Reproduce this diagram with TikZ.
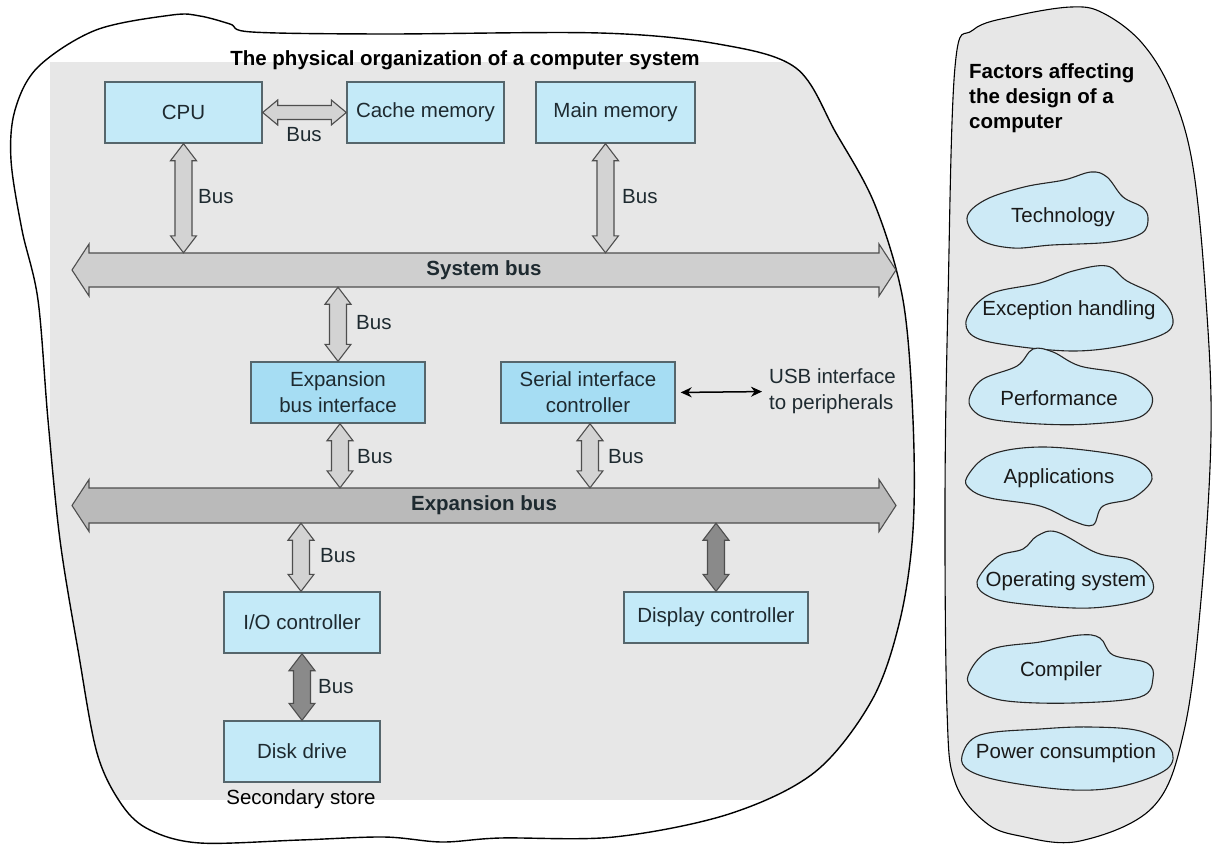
\documentclass[tikz,border=0pt]{standalone}
\usepackage{fontspec}
\setmainfont{Liberation Sans}
\usetikzlibrary{calc,arrows.meta}

\definecolor{boxblue}{HTML}{C4EAF8}
\definecolor{boxblue2}{HTML}{A6DDF3}
\definecolor{boxline}{HTML}{56666C}
\definecolor{panelgray}{HTML}{E7E7E7}
\definecolor{busgray}{HTML}{CFCFCF}
\definecolor{busgray2}{HTML}{BABABA}
\definecolor{linkgray}{HTML}{D3D3D3}
\definecolor{darklink}{HTML}{8A8A8A}
\definecolor{arrowline}{HTML}{4E4E4E}
\definecolor{cloudblue}{HTML}{CDEAF6}
\definecolor{inktext}{HTML}{1E2A30}

\newcommand\boxfont{\fontsize{20.5}{26}\selectfont}

% hollow double-headed "fat" arrow between two points
% #1 style, #2 start, #3 end, #4 head length, #5 head half width, #6 shaft half width
\newcommand\fatarrow[6]{%
  \path #2 coordinate (fas) #3 coordinate (fae);
  \path ($(fas)!#4!(fae)$) coordinate (fap) ($(fae)!#4!(fas)$) coordinate (faq);
  \filldraw[#1] (fas) -- ($(fap)!#5!90:(fae)$) -- ($(fap)!#6!90:(fae)$)
    -- ($(faq)!#6!-90:(fas)$) -- ($(faq)!#5!-90:(fas)$) -- (fae)
    -- ($(faq)!#5!90:(fas)$) -- ($(faq)!#6!90:(fas)$)
    -- ($(fap)!#6!-90:(fae)$) -- ($(fap)!#5!-90:(fae)$) -- cycle;
}

\tikzset{
  unitbox/.style={draw=boxline, line width=1.4pt, fill=boxblue, text=inktext,
    font=\boxfont, inner sep=0pt, align=center},
  hwbox/.style={unitbox, fill=boxblue2},
  linkarrow/.style={fill=linkgray, draw=arrowline, line width=1.1pt, line join=miter},
  darkarrow/.style={fill=darklink, draw=arrowline, line width=1.1pt, line join=miter},
  sysbusarrow/.style={fill=busgray, draw=arrowline, line width=1.1pt, line join=miter},
  expbusarrow/.style={fill=busgray2, draw=arrowline, line width=1.1pt, line join=miter},
  buslabel/.style={font=\boxfont\bfseries, text=inktext, inner sep=0pt},
  buslab/.style={font=\boxfont, text=inktext, anchor=west, inner sep=0pt},
  blobline/.style={draw=black, line width=1.4pt},
  factor/.style={draw=black!85, line width=1.1pt, fill=cloudblue},
  factortext/.style={font=\boxfont, text=black!90, inner sep=0pt},
}

\begin{document}
\begin{tikzpicture}[x=1pt, y=-1pt]
\useasboundingbox (0,0) rectangle (1216,844);

% ---------- outline of the computer system ----------
\fill[white] plot[smooth cycle, tension=0.55] coordinates {
  (96,30) (172,15) (200,16) (230,24) (252,32) (383,34) (600,33) (718,44)
  (796,68) (836,133) (875,205) (903,300) (913,420) (913,530) (900,620)
  (872,700) (815,772) (729,814) (614,837) (500,838) (442,842) (384,837)
  (300,840) (200,843) (150,830) (122,805) (97,753) (78,650) (60,540)
  (48,420) (38,300) (22,230) (11,160) (15,110) (38,67)};
\begin{scope}
  \clip plot[smooth cycle, tension=0.55] coordinates {
  (96,30) (172,15) (200,16) (230,24) (252,32) (383,34) (600,33) (718,44)
  (796,68) (836,133) (875,205) (903,300) (913,420) (913,530) (900,620)
  (872,700) (815,772) (729,814) (614,837) (500,838) (442,842) (384,837)
  (300,840) (200,843) (150,830) (122,805) (97,753) (78,650) (60,540)
  (48,420) (38,300) (22,230) (11,160) (15,110) (38,67)};
  \fill[panelgray] (50,62) rectangle (940,800);
\end{scope}
\draw[blobline] plot[smooth cycle, tension=0.55] coordinates {
  (96,30) (172,15) (200,16) (230,24) (252,32) (383,34) (600,33) (718,44)
  (796,68) (836,133) (875,205) (903,300) (913,420) (913,530) (900,620)
  (872,700) (815,772) (729,814) (614,837) (500,838) (442,842) (384,837)
  (300,840) (200,843) (150,830) (122,805) (97,753) (78,650) (60,540)
  (48,420) (38,300) (22,230) (11,160) (15,110) (38,67)};

\node[font=\fontsize{20.5}{24}\selectfont\bfseries, anchor=base, inner sep=0pt]
  (title) at (465,65) {The physical organization of a computer system};

% ---------- units ----------
\node[unitbox, minimum width=157, minimum height=61] (cpu)   at (183.5,112.5) {CPU};
\node[unitbox, minimum width=157, minimum height=61] (cache) at (425.5,112.5) {Cache memory};
\node[unitbox, minimum width=159, minimum height=61] (main)  at (615.5,112.5) {Main memory};
\node[hwbox,  minimum width=174, minimum height=61] (ebi)    at (338,392.5) {Expansion\\bus interface};
\node[hwbox,  minimum width=174, minimum height=61] (serial) at (588,392.5) {Serial interface\\controller};
\node[unitbox, minimum width=156, minimum height=61] (io)    at (302,622.5) {I/O controller};
\node[unitbox, minimum width=184, minimum height=51] (disp)  at (716,617.5) {Display controller};
\node[unitbox, minimum width=156, minimum height=61] (disk)  at (302,751.5) {Disk drive};
\node[factortext, text=black] (store) at (301,799) {Secondary store};

% ---------- buses ----------
\coordinate (sbl) at (72,270);
\coordinate (sbr) at (896,270);
\fatarrow{sysbusarrow}{(sbl)}{(sbr)}{17pt}{26pt}{17pt}
\node[buslabel, minimum width=790, minimum height=34] (sysbus) at ($(sbl)!0.5!(sbr)$) {System bus};

\coordinate (ebl) at (72,505.5);
\coordinate (ebr) at (896,505.5);
\fatarrow{expbusarrow}{(ebl)}{(ebr)}{17pt}{26pt}{17.5pt}
\node[buslabel, minimum width=790, minimum height=35] (expbus) at ($(ebl)!0.5!(ebr)$) {Expansion bus};

% ---------- bus links ----------
\fatarrow{linkarrow}{(cpu.east)}{(cache.west)}{15pt}{12.5pt}{7pt}
\node[buslab, anchor=center] (l-cc) at (304,135) {Bus};

\fatarrow{linkarrow}{(cpu.south)}{(cpu.south |- sysbus.north)}{17pt}{13pt}{8.5pt}
\node[buslab] (l-cpu) at (198,197) {Bus};

\coordinate (mmport) at ($(main.south)+(-10,0)$);
\fatarrow{linkarrow}{(mmport)}{(mmport |- sysbus.north)}{17pt}{13pt}{8.5pt}
\node[buslab] (l-main) at (622,197) {Bus};

\fatarrow{linkarrow}{(ebi.north |- sysbus.south)}{(ebi.north)}{17pt}{13pt}{8.5pt}
\node[buslab] (l-ebi1) at (356,323) {Bus};

\coordinate (ebiport) at ($(ebi.south)+(2,0)$);
\fatarrow{linkarrow}{(ebiport)}{(ebiport |- expbus.north)}{17pt}{13pt}{8.5pt}
\node[buslab] (l-ebi2) at (357,457) {Bus};

\coordinate (serport) at ($(serial.south)+(2,0)$);
\fatarrow{linkarrow}{(serport)}{(serport |- expbus.north)}{17pt}{13pt}{8.5pt}
\node[buslab] (l-ser) at (608,457) {Bus};

\coordinate (ioport) at ($(io.north)+(-1,0)$);
\fatarrow{linkarrow}{(ioport |- expbus.south)}{(ioport)}{17pt}{13pt}{8.5pt}
\node[buslab] (l-io) at (320,556) {Bus};

\fatarrow{darkarrow}{(disp.north |- expbus.south)}{(disp.north)}{17pt}{13pt}{8.5pt}

\fatarrow{darkarrow}{(io.south)}{(disk.north)}{17pt}{13pt}{8.5pt}
\node[buslab] (l-disk) at (318,687) {Bus};

% ---------- USB ----------
\node[factortext, align=left, anchor=west, text=inktext] (usb) at (769,391.5)
  {USB interface\\to peripherals};
\draw[line width=1.5pt, {Stealth[length=11pt,width=10pt]}-{Stealth[length=11pt,width=10pt]},
  shorten <=5pt, shorten >=7pt] (serial.east) -- (usb.west);

% ---------- design factors ----------
\draw[blobline, line width=1.1pt, fill=panelgray] plot[smooth cycle, tension=0.6] coordinates {
  (1071,7) (1103,13) (1142,43) (1172,93) (1193,167) (1206,300) (1211,434)
  (1201,600) (1184,731) (1153,807) (1080,841) (1020,836) (985,822) (955,782)
  (947,710) (945,500) (948,300) (955,67) (973,30) (1015,16)};

\node[font=\fontsize{20.5}{25}\selectfont\bfseries, align=left, anchor=north west,
  inner sep=0pt] (factors) at (969,63) {Factors affecting\\the design of a\\computer};

\draw[factor] plot[smooth cycle, tension=0.6] coordinates {
  (967,218) (985,200) (1024,187) (1064,180) (1091,172) (1107,177) (1123,197)
  (1142,207) (1148,218) (1142,233) (1111,242) (1052,245) (1013,248) (981,240)};
\node[factortext] (f-tech) at (1063,217) {Technology};

\draw[factor] plot[smooth cycle, tension=0.6] coordinates {
  (967,318) (990,294) (1040,283) (1073,271) (1107,266) (1127,281) (1157,296)
  (1172,315) (1167,332) (1127,345) (1073,351) (1007,345) (973,336)};
\node[factortext] (f-exc) at (1069,310) {Exception handling};

\draw[factor] plot[smooth cycle, tension=0.6] coordinates {
  (970,396) (983,379) (1017,366) (1033,349) (1053,352) (1080,366) (1127,375)
  (1152,396) (1140,417) (1090,424) (1040,424) (990,419) (972,409)};
\node[factortext] (f-perf) at (1059,398) {Performance};

\draw[factor] plot[smooth cycle, tension=0.6] coordinates {
  (967,477) (990,455) (1040,447) (1107,453) (1140,462) (1152,479) (1133,498)
  (1103,506) (1093,525) (1073,521) (1040,506) (990,498) (970,489)};
\node[factortext] (f-app) at (1059,478) {Applications};

\draw[factor] plot[smooth cycle, tension=0.6] coordinates {
  (977,582) (997,557) (1023,549) (1037,536) (1057,532) (1097,553) (1133,561)
  (1153,583) (1143,599) (1090,608) (1023,604) (990,597)};
\node[factortext] (f-os) at (1066,581) {Operating system};

\draw[factor] plot[smooth cycle, tension=0.6] coordinates {
  (968,676) (990,650) (1040,642) (1080,635) (1100,638) (1113,655) (1147,663)
  (1153,678) (1140,697) (1073,703) (1007,701) (977,691)};
\node[factortext] (f-comp) at (1061,671) {Compiler};

\draw[factor] plot[smooth cycle, tension=0.6] coordinates {
  (962,756) (980,735) (1040,729) (1090,727) (1140,731) (1170,748) (1167,769)
  (1123,786) (1073,790) (1007,782) (970,771)};
\node[factortext] (f-pow) at (1066,753) {Power consumption};

\end{tikzpicture}
\end{document}
